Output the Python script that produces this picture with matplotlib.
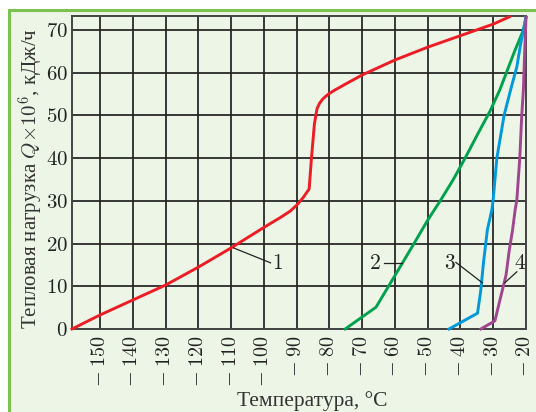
import matplotlib
matplotlib.use("Agg")
import matplotlib.pyplot as plt
from matplotlib.patches import Rectangle

plt.rcParams['font.family'] = ['Liberation Serif', 'DejaVu Serif']
plt.rcParams['mathtext.fontset'] = 'cm'

# Data (temperature °C, heat load Q×10^6 kJ/h)
c1_t = [-158.6, -150, -140, -130, -120, -110, -100, -95, -92, -90, -88, -86.2, -85.5, -84.6, -83.8, -83.0, -82.0, -80.5, -78.5, -75, -70, -60, -50, -40, -30, -25.1]
c1_q = [0, 3.3, 6.8, 10.3, 14.5, 19.0, 23.8, 26.1, 27.6, 29.0, 30.8, 32.8, 40.0, 48.0, 51.6, 52.9, 53.9, 54.9, 55.9, 57.4, 59.5, 63.0, 66.0, 68.7, 71.4, 73.1]

c2_t = [-75.2, -65.8, -60.8, -54.2, -50, -46.2, -42.2, -38.6, -34.5, -31.0, -28.0, -26.0, -23.5, -20.8, -20.0]
c2_q = [0, 5.1, 11.5, 20.0, 25.5, 30.0, 35.0, 40.0, 46.0, 51.0, 56.0, 60.0, 65.0, 70.0, 73.0]

c3_t = [-43.5, -34.8, -33.8, -33.0, -31.8, -30.4, -30.0, -28.9, -26.7, -24.6, -22.8, -21.6, -20.0]
c3_q = [0, 3.7, 9.1, 15.4, 23.2, 28.0, 30.5, 40.0, 50.0, 56.3, 61.4, 66.9, 73.0]

c4_t = [-33.8, -29.5, -27.7, -26.1, -25.1, -24.1, -23.3, -22.8, -21.9, -21.3, -20.8, -20.4, -20.0]
c4_q = [0, 1.9, 7.6, 12.6, 18.5, 23.2, 28.0, 30.2, 40.0, 50.0, 56.0, 65.0, 73.0]

curve_labels = ['1', '2', '3', '4']
label_pos = [(-95.9, 15.4), (-66.1, 15.4), (-43.5, 15.4), (-21.8, 15.4)]
leader_start = [(-98.0, 15.5), (-63.5, 15.5), (-41.4, 15.6), (-22.8, 13.4)]
leader_end = [(-109.3, 19.0), (-58.0, 15.5), (-33.3, 10.8), (-26.5, 10.8)]

x_ticks = [-150, -140, -130, -120, -110, -100, -90, -80, -70, -60, -50, -40, -30, -20]
y_ticks = [0, 10, 20, 30, 40, 50, 60, 70]

colors = ['#EE1D25', '#00A24E', '#0099DD', '#A0468F']
bg = '#EDF5E6'
border = '#7CC24E'

fig = plt.figure(figsize=(5.36, 4.12), dpi=100, facecolor='white')
frame = Rectangle((8.5 / 536, -0.05), 1.2, (412 - 9.5) / 412 + 0.05,
                  transform=fig.transFigure, facecolor=bg,
                  edgecolor=border, linewidth=2.2, zorder=-10)
fig.add_artist(frame)

ax = fig.add_axes([72 / 536, (412 - 329) / 412, (526 - 72) / 536, (329 - 16) / 412])
ax.set_zorder(5)
ax.set_facecolor(bg)

for t, q, c in zip([c1_t, c2_t, c3_t, c4_t], [c1_q, c2_q, c3_q, c4_q], colors):
    ax.plot(t, q, color=c, lw=2.1, solid_joinstyle='round', zorder=3, clip_on=False)

for lab, (lx, ly), (sx, sy), (ex, ey) in zip(curve_labels, label_pos, leader_start, leader_end):
    ax.plot([sx, ex], [sy, ey], color='#222222', lw=0.9, zorder=4)
    ax.text(lx, ly, lab, fontsize=15.5, ha='center', va='center', color='#222222',
            family='cmr10', zorder=5)

ax.set_xlim(-158.6, -20)
ax.set_ylim(0, 73.3)
ax.set_xticks(x_ticks)
ax.set_yticks(y_ticks)
ax.set_xticklabels([r'$-\;%d$' % abs(v) for v in x_ticks], rotation=90, fontsize=14.5)
ax.set_yticklabels([r'$%d$' % v for v in y_ticks], fontsize=15)
ax.tick_params(axis='both', length=0, colors='#222222')
ax.tick_params(axis='x', pad=4.5)
ax.tick_params(axis='y', pad=3)

ax.grid(True, color='#222222', lw=1.25)
ax.set_axisbelow(True)
for s in ax.spines.values():
    s.set_color('#444444')
    s.set_linewidth(1.4)

ax.set_xlabel('Температура, °С', fontsize=15.5, color='#333333')
ax.xaxis.set_label_coords(0.53, -0.198)
ax.set_ylabel(r'Тепловая нагрузка $Q{\times}10^{6}$, кДж/ч', fontsize=15, color='#333333')
ax.yaxis.set_label_coords(-0.057, 0.479)

fig.savefig('out.png', dpi=100, facecolor=fig.get_facecolor())
